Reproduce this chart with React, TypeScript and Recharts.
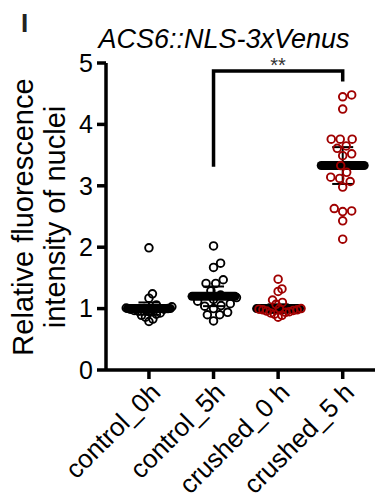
import React from 'react';
import { ScatterChart, Scatter, XAxis, YAxis, ErrorBar } from 'recharts';

const GROUPS = ['control_0h', 'control_5h', 'crushed_0 h', 'crushed_5 h'];
const GROUP_COLORS = ['#000000', '#000000', '#a00000', '#a00000'];

// values per nucleus
const CONTROL_0H = [1.99, 1.24, 1.17, 1.06, 1.03, 1.01, 1.0, 1.0, 0.99, 0.99, 0.98, 0.97, 0.96, 0.95, 0.93, 0.91, 0.89, 0.86, 0.83, 0.79];
const CONTROL_5H = [2.02, 1.74, 1.67, 1.47, 1.41, 1.41, 1.29, 1.22, 1.18, 1.15, 1.12, 1.08, 1.05, 1.04, 1.0, 0.94, 0.9, 0.9, 0.8];
const CRUSHED_0H = [1.48, 1.32, 1.28, 1.14, 1.1, 1.07, 1.0, 1.0, 0.99, 0.98, 0.98, 0.97, 0.96, 0.95, 0.94, 0.93, 0.91, 0.89, 0.86];
const CRUSHED_5H = [4.48, 4.45, 4.25, 3.76, 3.76, 3.76, 3.61, 3.65, 3.49, 3.52, 3.33, 3.22, 3.12, 3.14, 3.07, 2.98, 2.63, 2.58, 2.59, 2.43, 2.13];

const MEANS = [1.0, 1.2, 1.0, 3.33];
const ERRORS = [0.1, 0.16, 0.07, 0.3];

const Y_TICKS = [0, 1, 2, 3, 4, 5];

// significance bracket between control_5h and crushed_5h
const BRACKET_X = [1, 1, 3, 3];
const BRACKET_Y = [3.31, 4.87, 4.87, 4.7];
const SIGNIF = '**';

const FONT = '"Liberation Sans", Arial, sans-serif';

// beeswarm layout, pixels per unit on each axis
const PX_X = 64.8;
const PX_Y = 61.4;
const DOT_GAP = 9;
const MAX_SPREAD = 23;

function swarm(values: number[], center: number) {
  const sorted = [...values].sort((a, b) => a - b);
  const placed: { px: number; py: number }[] = [];
  for (const v of sorted) {
    const py = v * PX_Y;
    let best = 0;
    for (let k = 0; k < 400; k++) {
      const off = k === 0 ? 0 : (k % 2 ? 1 : -1) * Math.ceil(k / 2) * 0.5;
      if (placed.every(p => Math.hypot(p.px - off, p.py - py) >= DOT_GAP)) {
        best = off;
        break;
      }
    }
    placed.push({ px: best, py });
  }
  const maxAbs = Math.max(...placed.map(p => Math.abs(p.px)), 1);
  const k = maxAbs > MAX_SPREAD ? MAX_SPREAD / maxAbs : 1;
  return placed.map(p => ({ x: center + (p.px * k) / PX_X, y: p.py / PX_Y }));
}

const groupData = [CONTROL_0H, CONTROL_5H, CRUSHED_0H, CRUSHED_5H].map((vals, i) => swarm(vals, i));
const meanData = MEANS.map((m, i) => ({ x: i, y: m, err: ERRORS[i] }));
const bracketData = BRACKET_X.map((x, i) => ({ x, y: BRACKET_Y[i] }));
const signifData = [{ x: (BRACKET_X[1] + BRACKET_X[2]) / 2, y: BRACKET_Y[1] }];

const dot = (color: string) => (props: any) => (
  <circle cx={props.cx} cy={props.cy} r={3.8} fill="none" stroke={color} strokeWidth={1.9} />
);

const meanBar = (props: any) => (
  <line x1={props.cx - 21.5} x2={props.cx + 21.5} y1={props.cy} y2={props.cy} stroke="#000" strokeWidth={9} strokeLinecap="round" />
);

export default function App() {
  return (
    <div style={{ position: 'absolute', left: 0, top: 0, fontFamily: FONT }}>
      <ScatterChart width={375} height={497} margin={{ top: 63, right: 0, bottom: 0, left: 0 }}>
        <text x={21} y={32} fontSize={26} fontWeight="bold" fill="#222" fontFamily={FONT}>I</text>
        <text x={224} y={48} fontSize={27} fontStyle="italic" textAnchor="middle" fill="#000" fontFamily={FONT}>
          ACS6::NLS-3xVenus
        </text>
        <text transform="translate(33,217) rotate(-90)" fontSize={29} textAnchor="middle" fill="#000" fontFamily={FONT}>
          Relative fluorescence
        </text>
        <text transform="translate(65,217) rotate(-90)" fontSize={29} textAnchor="middle" fill="#000" fontFamily={FONT}>
          intensity of nuclei
        </text>
        <XAxis
          type="number"
          dataKey="x"
          domain={[-0.665, 3.5]}
          ticks={[0, 1, 2, 3]}
          interval={0}
          allowDataOverflow
          tickFormatter={(i: number) => GROUPS[i]}
          height={127}
          axisLine={{ stroke: '#000', strokeWidth: 3.5 }}
          tickLine={{ stroke: '#000', strokeWidth: 3.5 }}
          tickSize={9}
          tick={{ fontSize: 26, fill: '#000', angle: -45, textAnchor: 'end', fontFamily: FONT }}
        />
        <YAxis
          type="number"
          dataKey="y"
          domain={[0, 5]}
          ticks={Y_TICKS}
          interval={0}
          width={106}
          axisLine={{ stroke: '#000', strokeWidth: 3.5 }}
          tickLine={{ stroke: '#000', strokeWidth: 3.5 }}
          tickSize={9}
          tickMargin={4}
          tick={{ fontSize: 25, fill: '#000', fontFamily: FONT }}
        />
        <Scatter data={meanData} shape={meanBar} isAnimationActive={false}>
          <ErrorBar dataKey="err" direction="y" width={10.5} stroke="#000" strokeWidth={2} isAnimationActive={false} />
        </Scatter>
        {groupData.map((d, i) => (
          <Scatter key={GROUPS[i]} data={d} shape={dot(GROUP_COLORS[i])} isAnimationActive={false} />
        ))}
        <Scatter
          data={bracketData}
          line={{ stroke: '#000', strokeWidth: 3.5 }}
          lineType="joint"
          shape={() => <g />}
          isAnimationActive={false}
        />
        <Scatter
          data={signifData}
          shape={(p: any) => (
            <text x={p.cx} y={p.cy + 1} fontSize={20} textAnchor="middle" fill="#333" fontFamily={FONT}>
              {SIGNIF}
            </text>
          )}
          isAnimationActive={false}
        />
      </ScatterChart>
    </div>
  );
}
